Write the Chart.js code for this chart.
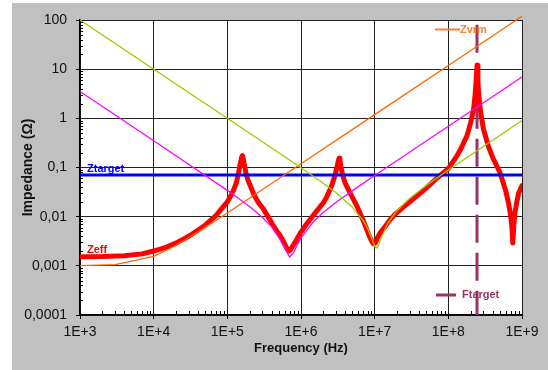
<!DOCTYPE html>
<html>
<head>
<meta charset="utf-8">
<script src="https://cdn.jsdelivr.net/npm/chart.js@4.4.0/dist/chart.umd.min.js"></script>
<style>
  html, body { margin: 0; padding: 0; background: #fff; }
</style>
</head>
<body>
<canvas id="impedanceChart" width="548" height="370"></canvas>
<script>
// tick labels
const xTickValues = [1e3, 1e4, 1e5, 1e6, 1e7, 1e8, 1e9];
const xTickLabels = ["1E+3", "1E+4", "1E+5", "1E+6", "1E+7", "1E+8", "1E+9"];
const yTickValues = [1e-4, 1e-3, 1e-2, 1e-1, 1, 10, 100];
const yTickLabels = ["0,0001", "0,001", "0,01", "0,1", "1", "10", "100"];

// Zeff (red, thick)
const zeffFreq = [1e3, 2e3, 4e3, 7e3, 1e4, 1.5e4, 2e4, 3e4, 5e4, 7e4,
    1e5, 1.12e5, 1.23e5, 1.33e5, 1.42e5, 1.5e5, 1.56e5, 1.6e5, 1.64e5, 1.7e5,
    1.8e5, 1.9e5, 2.03e5, 2.3e5, 2.6e5, 3.07e5, 3.6e5, 4.1e5, 4.65e5, 5e5,
    5.5e5, 6e5, 6.5e5, 6.9e5, 7.3e5, 7.8e5, 8.5e5, 9.7e5, 1.2e6, 1.6e6,
    2e6, 2.2e6, 2.6e6, 2.9e6, 3.1e6, 3.2e6, 3.3e6, 3.38e6, 3.5e6, 3.7e6,
    3.94e6, 4.3e6, 4.6e6, 5.2e6, 5.7e6, 6.3e6, 7e6, 7.8e6, 8.6e6, 9.2e6,
    9.7e6, 1.02e7, 1.1e7, 1.2e7, 1.38e7, 1.6e7, 1.9e7, 2.5e7, 3e7, 4.1e7,
    5e7, 7.1e7, 1e8, 1.3e8, 1.5e8, 1.8e8, 2e8, 2.2e8, 2.3e8, 2.38e8,
    2.45e8, 2.52e8, 2.6e8, 2.75e8, 3e8, 3.5e8, 4e8, 5e8, 6e8, 6.6e8,
    7e8, 7.3e8, 7.5e8, 7.7e8, 8e8, 8.5e8, 9e8, 1e9];
const zeffValues = [0.00153, 0.00154, 0.0016, 0.00175, 0.002, 0.0024, 0.0029, 0.004, 0.0067, 0.0105,
    0.02, 0.027, 0.036, 0.05, 0.078, 0.12, 0.16, 0.175, 0.155, 0.115,
    0.075, 0.056, 0.044, 0.028, 0.02, 0.0145, 0.0098, 0.007, 0.0052, 0.0045,
    0.0036, 0.0028, 0.0022, 0.002, 0.0022, 0.0026, 0.0032, 0.0045, 0.0072, 0.0125,
    0.019, 0.024, 0.042, 0.07, 0.105, 0.135, 0.155, 0.14, 0.1, 0.068,
    0.05, 0.038, 0.031, 0.022, 0.0168, 0.012, 0.0083, 0.0055, 0.0038, 0.0031,
    0.0028, 0.0029, 0.0038, 0.0048, 0.0062, 0.0085, 0.0113, 0.016, 0.02, 0.0295,
    0.038, 0.062, 0.095, 0.17, 0.25, 0.45, 0.8, 1.5, 2.8, 5.5,
    12, 5.5, 2.8, 1.3, 0.6, 0.27, 0.16, 0.08, 0.034, 0.018,
    0.011, 0.006, 0.0029, 0.006, 0.0115, 0.02, 0.03, 0.043];

// Zvrm (orange)
const zvrmFreq = [1e3, 3e3, 1e4, 2e4, 3e4, 5e4, 1e5, 1e6, 1e7, 1e8, 1e9];
const zvrmValues = [0.00101, 0.00106, 0.00156, 0.00259, 0.00372, 0.00605, 0.0119, 0.119, 1.19, 11.9, 119];

// bulk capacitor (magenta)
const bulkFreq = [1e3, 1e4, 1e5, 2e5, 3e5, 4e5, 5e5, 6e5, 7e5, 8e5, 9e5, 1e6, 1.5e6, 2e6, 3e6, 5e6, 1e7, 1e8, 1e9];
const bulkValues = [3.5, 0.35, 0.0343, 0.0161, 0.0096, 0.0062, 0.0038, 0.0023, 0.0015, 0.0019, 0.0028, 0.0037, 0.0081, 0.0121, 0.0196, 0.0339, 0.0688, 0.691, 6.91];

// ceramic capacitor (green)
const ceramicFreq = [1e3, 1e4, 1e5, 1e6, 2e6, 3e6, 5e6, 7e6, 8e6, 9e6, 1e7, 1.05e7, 1.1e7, 1.2e7, 1.5e7, 2e7, 3e7, 5e7, 1e8, 1e9];
const ceramicValues = [100, 10, 1.0, 0.099, 0.048, 0.0307, 0.0155, 0.0083, 0.0058, 0.0038, 0.0025, 0.0023, 0.0024, 0.0034, 0.0072, 0.0132, 0.0236, 0.0429, 0.0888, 0.9];

// target lines
const ztargetFreq = [1e3, 1e9];
const ztargetValues = [0.07, 0.07];
const ftargetFreq = [2.45e8, 2.45e8];
const ftargetValues = [80, 1e-4];

const FONT = "'Liberation Sans', Arial, sans-serif";
const toPoints = (xs, ys) => xs.map((x, i) => ({ x: x, y: ys[i] }));

const backgroundPlugin = {
    id: "background",
    beforeDraw(chart) {
        const { ctx, chartArea } = chart;
        ctx.save();
        ctx.fillStyle = "#ffffff";
        ctx.fillRect(0, 0, chart.width, chart.height);
        ctx.fillStyle = "#c0c0c0";
        ctx.fillRect(12, 3, chart.width - 12, chart.height - 3);
        ctx.fillStyle = "#ffffff";
        ctx.fillRect(chartArea.left, chartArea.top, chartArea.right - chartArea.left, chartArea.bottom - chartArea.top);
        ctx.restore();
    },
};

// small inward ticks between the decades
const minorTicksPlugin = {
    id: "minorTicks",
    afterDraw(chart) {
        const { ctx, chartArea, scales } = chart;
        ctx.save();
        ctx.strokeStyle = "#000";
        ctx.lineWidth = 1;
        ctx.beginPath();
        for (let d = 1e3; d < 1e9; d *= 10) {
            for (let k = 2; k <= 9; k++) {
                const x = Math.round(scales.x.getPixelForValue(k * d)) + 0.5;
                ctx.moveTo(x, chartArea.bottom);
                ctx.lineTo(x, chartArea.bottom - 4);
            }
        }
        for (let d = 1e-4; d < 100; d *= 10) {
            for (let k = 2; k <= 9; k++) {
                const y = Math.round(scales.y.getPixelForValue(k * d)) + 0.5;
                ctx.moveTo(chartArea.left, y);
                ctx.lineTo(chartArea.left + 3, y);
            }
        }
        ctx.stroke();
        ctx.restore();
    },
};

// series names written inside the plot
const seriesLabelsPlugin = {
    id: "seriesLabels",
    afterDatasetsDraw(chart) {
        const { ctx, chartArea, scales } = chart;
        ctx.save();
        ctx.font = "bold 11px " + FONT;
        ctx.textBaseline = "middle";
        ctx.textAlign = "left";

        ctx.fillStyle = "#0000ff";
        ctx.fillText("Ztarget", chartArea.left + 7, scales.y.getPixelForValue(ztargetValues[0]) - 6);

        ctx.fillStyle = "#ff0000";
        ctx.fillText("Zeff", chartArea.left + 7, scales.y.getPixelForValue(zeffValues[0]) - 7);

        ctx.strokeStyle = "#ff7f27";
        ctx.lineWidth = 2;
        ctx.beginPath();
        ctx.moveTo(chartArea.right - 87, chartArea.top + 9.5);
        ctx.lineTo(chartArea.right - 62, chartArea.top + 9.5);
        ctx.stroke();
        ctx.fillStyle = "#ff7f27";
        ctx.fillText("Zvrm", chartArea.right - 62, chartArea.top + 10);

        ctx.strokeStyle = "#993366";
        ctx.lineWidth = 3;
        ctx.beginPath();
        ctx.moveTo(chartArea.right - 86, chartArea.bottom - 20);
        ctx.lineTo(chartArea.right - 66, chartArea.bottom - 20);
        ctx.stroke();
        ctx.fillStyle = "#993366";
        ctx.fillText("Ftarget", chartArea.right - 60, chartArea.bottom - 20);
        ctx.restore();
    },
};

const thin = (label, xs, ys, color) => ({
    label: label,
    data: toPoints(xs, ys),
    borderColor: color,
    borderWidth: 1.3,
    borderJoinStyle: "round",
    pointRadius: 0,
    tension: 0,
});

new Chart(document.getElementById("impedanceChart"), {
    type: "line",
    data: {
        datasets: [
            thin("Ceramic", ceramicFreq, ceramicValues, "#99cc00"),
            thin("Bulk", bulkFreq, bulkValues, "#ff00ff"),
            Object.assign(thin("Zvrm", zvrmFreq, zvrmValues, "#ff6600"), { clip: false }),
            {
                label: "Ztarget",
                data: toPoints(ztargetFreq, ztargetValues),
                borderColor: "#0000ff",
                borderWidth: 3,
                pointRadius: 0,
            },
            {
                label: "Zeff",
                data: toPoints(zeffFreq, zeffValues),
                borderColor: "#ff0000",
                borderWidth: 5,
                borderJoinStyle: "round",
                borderCapStyle: "round",
                pointRadius: 0,
                tension: 0,
            },
            {
                label: "Ftarget",
                data: toPoints(ftargetFreq, ftargetValues),
                borderColor: "#993366",
                borderWidth: 3,
                borderDash: [28, 10],
                pointRadius: 0,
            },
        ],
    },
    options: {
        responsive: false,
        animation: false,
        layout: { padding: { left: 0, top: 20, right: 26, bottom: 0 } },
        plugins: {
            legend: { display: false },
            tooltip: { enabled: false },
        },
        scales: {
            x: {
                type: "logarithmic",
                min: 1e3,
                max: 1e9,
                afterBuildTicks: (s) => { s.ticks = xTickValues.map((v) => ({ value: v })); },
                afterFit: (s) => { s.height = 55; },
                ticks: {
                    callback: (v, i) => xTickLabels[i],
                    color: "#111",
                    font: { family: FONT, size: 14 },
                    padding: 5,
                    maxRotation: 0,
                    autoSkip: false,
                },
                grid: { color: "#222", lineWidth: 1, tickLength: 4, tickColor: "#000" },
                border: { color: "#000", width: 1.5 },
                title: {
                    display: true,
                    text: "Frequency (Hz)",
                    color: "#111",
                    font: { family: FONT, size: 13, weight: "bold" },
                    padding: { top: 0, bottom: 14 },
                },
            },
            y: {
                type: "logarithmic",
                min: 1e-4,
                max: 100,
                afterBuildTicks: (s) => { s.ticks = yTickValues.map((v) => ({ value: v })); },
                afterFit: (s) => { s.width = 80; },
                ticks: {
                    callback: (v, i) => yTickLabels[i],
                    color: "#111",
                    font: { family: FONT, size: 14 },
                    padding: 9,
                    autoSkip: false,
                },
                grid: { color: "#222", lineWidth: 1, tickLength: 4, tickColor: "#000" },
                border: { color: "#000", width: 1.5 },
                title: {
                    display: true,
                    text: "Impedance (Ω)",
                    color: "#111",
                    font: { family: FONT, size: 14, weight: "bold" },
                    padding: { top: 20, bottom: 0 },
                },
            },
        },
    },
    plugins: [backgroundPlugin, minorTicksPlugin, seriesLabelsPlugin],
});
</script>
</body>
</html>
